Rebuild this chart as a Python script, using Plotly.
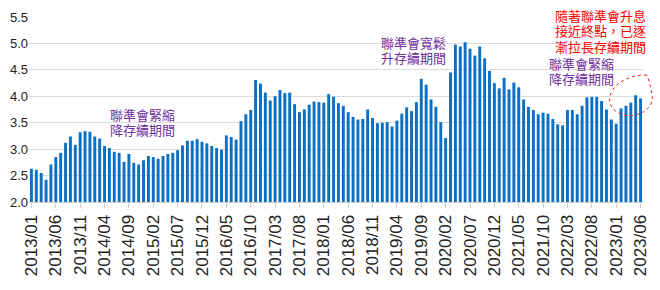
import plotly.graph_objects as go

months = [f"{y}/{m:02d}" for y in range(2013, 2024) for m in range(1, 13)][:126]

duration = [
    2.63, 2.61, 2.55, 2.42, 2.71, 2.85, 2.93, 3.12, 3.24, 3.08, 3.32, 3.34,
    3.33, 3.24, 3.20, 3.06, 3.02, 2.95, 2.93, 2.76, 2.91, 2.74, 2.71, 2.79,
    2.87, 2.85, 2.82, 2.87, 2.91, 2.93, 2.98, 3.07, 3.16, 3.16, 3.19, 3.14,
    3.11, 3.06, 3.02, 2.99, 3.26, 3.23, 3.18, 3.53, 3.66, 3.74, 4.31, 4.24,
    4.07, 3.92, 4.00, 4.12, 4.06, 4.07, 3.85, 3.70, 3.75, 3.84, 3.90, 3.89,
    3.88, 4.04, 3.99, 3.87, 3.82, 3.70, 3.61, 3.56, 3.57, 3.75, 3.59, 3.49,
    3.50, 3.51, 3.43, 3.54, 3.67, 3.79, 3.72, 3.89, 4.33, 4.22, 3.94, 3.80,
    3.51, 3.21, 4.45, 4.98, 4.94, 5.02, 4.90, 4.77, 4.94, 4.72, 4.48, 4.25,
    4.15, 4.35, 4.13, 4.26, 4.17, 3.94, 3.80, 3.74, 3.66, 3.69, 3.67, 3.57,
    3.47, 3.45, 3.74, 3.74, 3.66, 3.82, 3.98, 3.99, 3.99, 3.91, 3.75, 3.56,
    3.48, 3.77, 3.82, 3.88, 4.02, 3.96,
]

tick_labels = months[::5]
y_ticks = [2.0, 2.5, 3.0, 3.5, 4.0, 4.5, 5.0, 5.5]

W, H = 660, 290
ML, MR, MT, MB = 21, 10, 14, 88

fig = go.Figure()
fig.add_trace(go.Bar(
    x=months, y=duration, width=0.6,
    marker=dict(color="#0B6FC3", line=dict(width=0)),
    hoverinfo="x+y",
))

def px2paper(px, py):
    return (px - ML) / (W - ML - MR), (H - MB - py) / (H - MT - MB)

def P(px, py):
    x, y = px2paper(px, py)
    return f"{x:.4f},{y:.4f}"

path = (f"M {P(654,73)} C {P(640,72)} {P(618,80)} {P(616,96)} "
        f"C {P(614,108)} {P(628,116)} {P(640,114)} "
        f"C {P(652,112)} {P(662,104)} {P(659,92)} "
        f"C {P(658,85)} {P(656,78)} {P(654,73)} Z")
fig.add_shape(type="path", path=path, xref="paper", yref="paper",
              line=dict(color="#FF2020", width=1, dash="dot"))

cjk = "Noto Sans CJK TC"
purple = "#7030A0"
red = "#FF0000"

def add_lines(lines, left_px, centers_py, color):
    for txt, cy in zip(lines, centers_py):
        x, y = px2paper(left_px, cy)
        fig.add_annotation(text=txt, x=x, y=y, xref="paper", yref="paper",
                           xanchor="left", yanchor="middle", align="left",
                           showarrow=False, borderpad=0,
                           font=dict(family=cjk, size=13, color=color))

add_lines(["聯準會緊縮", "降存續期間"], 103, [113, 128.5], purple)
add_lines(["聯準會寬鬆", "升存續期間"], 381, [39.5, 55.3], purple)
add_lines(["聯準會緊縮", "降存續期間"], 552.5, [61, 76.5], purple)
add_lines(["隨著聯準會升息", "接近終點，已逐", "漸拉長存續期間"], 559, [12.5, 28.2, 44], red)

fig.update_layout(
    width=W, height=H,
    margin=dict(l=ML, r=MR, t=MT, b=MB),
    plot_bgcolor="white", paper_bgcolor="white",
    showlegend=False, bargap=0.4,
    font=dict(family="Liberation Sans", color="#222222"),
)
fig.update_xaxes(
    type="category", tickmode="array", tickvals=tick_labels, ticktext=tick_labels,
    tickangle=-90, tickfont=dict(size=17, family="Liberation Sans", color="#222222"),
    showgrid=False, showline=True, linecolor="#D0D0D0", linewidth=1,
    ticks="outside", ticklen=5, tickcolor="#D0D0D0",
    range=[-0.5, 125.5],
)
fig.update_yaxes(
    range=[2.0, 5.5], tickvals=y_ticks, tickformat=".1f",
    tickfont=dict(size=13, family="Liberation Sans", color="#222222"),
    showgrid=True, gridcolor="#DCDCDC", gridwidth=1,
    zeroline=False, showline=False, ticks="",
)

fig.write_html("out.html")
